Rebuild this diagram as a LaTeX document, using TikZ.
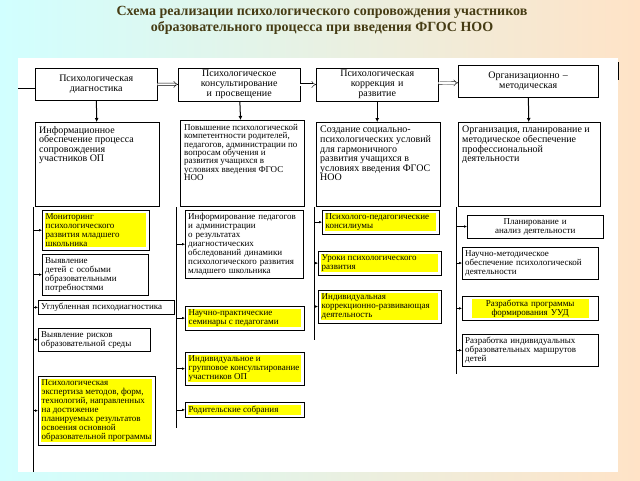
\documentclass[tikz,border=0pt]{standalone}
\usepackage{fontspec}
\setmainfont{Liberation Serif}
\usetikzlibrary{arrows.meta,positioning}
\definecolor{titlebrown}{RGB}{70,60,20}
\definecolor{hlyellow}{RGB}{255,255,0}
\setlength{\fboxsep}{0.5pt}
\newcommand{\yel}[2]{\colorbox{hlyellow}{\parbox{#1}{\raggedright #2}}}
\newcommand{\aimtext}[2]{\parbox[t][#1][t]{116pt}{\raggedright #2}}
\tikzset{
  head/.style={draw, thin, fill=white, text width=118pt, align=center, font=\fontsize{10}{10}\selectfont, minimum height=32pt, anchor=north west, inner sep=2pt},
  aim/.style={draw, thin, fill=white, align=left, font=\fontsize{10}{9.6}\selectfont, anchor=north west, inner sep=4pt},
  item/.style={draw, thin, fill=white, align=left, font=\fontsize{9}{9}\selectfont, anchor=north west, inner sep=3pt},
  tick/.style={-{Latex[length=3pt,width=2.5pt]}, thin},
  down/.style={-{Latex[length=4pt,width=4pt]}, line width=1pt},
  dbl/.style={-{Implies}, double, double distance=2pt, thin}
}
\begin{document}
\begin{tikzpicture}[x=1pt, y=-1pt]
  \useasboundingbox (0,0) rectangle (640,480);
  \shade[left color=cyan!18, right color=orange!22] (0,0) rectangle (640,480);
  \fill[white] (18,58) rectangle (618,472);
  % title
  \node[font=\bfseries\fontsize{14}{16}\selectfont, text=titlebrown, align=center] (title) at (322,20)
    {Схема реализации психологического сопровождения участников\\образовательного процесса при введения ФГОС НОО};

  % top row
  \draw (18,88) -- (35,88);
  \node[head] (diag) at (35,68) {Психологическая\\диагностика};
  \node[head] (kons) at (178,68) {Психологическое\\консультирование\\и просвещение};
  \node[head] (korr) at (316,68) {Психологическая\\коррекция и\\развитие};
  \node[head, text width=136pt] (org) at (458,65) {Организационно –\\методическая};
  \draw (618,62) -- (618,80);
  \draw[dbl] (diag) -- (kons);
  \draw[dbl] (kons) -- (korr);
  \draw[dbl] (korr) -- (org);

  % second row
  \node[aim] (info) at (35,122) {\aimtext{76pt}{Информационное обеспечение процесса сопровождения участников ОП}};
  \node[aim, font=\fontsize{9}{8.4}\selectfont] (comp) at (180,120) {\aimtext{78pt}{Повышение психологической компетентности родителей, педагогов, администрации по вопросам обучения и развития учащихся в условиях введения ФГОС НОО}};
  \node[aim] (usl) at (316,122) {\aimtext{76pt}{Создание социально-психологических условий для гармоничного развития учащихся в условиях введения ФГОС НОО}};
  \node[aim] (plan) at (458,122) {\parbox[t][76pt][t]{134pt}{\raggedright Организация, планирование и методическое обеспечение профессиональной деятельности}};
  \draw[down] (diag) -- (info);
  \draw[down] (kons) -- (comp);
  \draw[down] (korr.south) -- (korr.south |- usl.north);
  \draw[down] (org) -- (plan);

  % column 1
  \coordinate (b1) at (33,207);
  \coordinate (e1) at (33,472);
  \draw (b1) -- (e1);
  \node[item] (mon) at (42,210) {\yel{100pt}{Мониторинг психологического развития младшего школьника}};
  \node[item, text width=100pt] (vyd) at (42,254) {Выявление детей с особыми образовательными потребностями};
  \node[item, text width=130pt] (ugl) at (38,300) {Углубленная психодиагностика};
  \node[item, text width=106pt] (risk) at (38,328) {Выявление рисков образовательной среды};
  \node[item] (eksp) at (38,376) {\yel{110pt}{Психологическая экспертиза методов, форм, технологий, направленных на достижение планируемых результатов освоения основной образовательной программы}};
  \foreach \n in {mon,vyd,ugl,risk,eksp}
    \draw[tick] (b1 |- \n.west) -- (\n.west);

  % column 2
  \coordinate (b2) at (176,207);
  \coordinate (e2) at (176,428);
  \draw (b2) -- (e2);
  \node[item, text width=112pt] (inf) at (185,210) {Информирование педагогов и администрации о результатах диагностических обследований динамики психологического развития младшего школьника};
  \node[item] (sem) at (185,306) {\yel{112pt}{Научно-практические семинары с педагогами}};
  \node[item] (ind) at (185,352) {\yel{112pt}{Индивидуальное и групповое консультирование участников ОП}};
  \node[item] (rod) at (185,402) {\yel{112pt}{Родительские собрания}};
  \foreach \n in {inf,sem,ind,rod}
    \draw[tick] (b2 |- \n.west) -- (\n.west);

  % column 3
  \coordinate (b3) at (314,207);
  \coordinate (e3) at (314,340);
  \draw (b3) -- (e3);
  \node[item] (kon) at (322,210) {\yel{110pt}{Психолого-педагогические консилиумы}};
  \node[item] (urok) at (318,251) {\yel{116pt}{Уроки психологического развития}};
  \node[item] (kor) at (318,290) {\yel{116pt}{Индивидуальная коррекционно-развивающая деятельность}};
  \foreach \n in {kon,urok,kor}
    \draw[tick] (b3 |- \n.west) -- (\n.west);

  % column 4
  \coordinate (b4) at (456,207);
  \coordinate (e4) at (456,374);
  \draw (b4) -- (e4);
  \node[item, text width=130pt, align=center] (pla) at (467,215) {Планирование и анализ деятельности};
  \node[item, text width=130pt] (nmo) at (462,247) {Научно-методическое обеспечение психологической деятельности};
  \node[item, text width=130pt, align=center] (uud) at (462,296) {\colorbox{hlyellow}{\parbox{116pt}{\centering Разработка программы формирования УУД}}};
  \node[item, text width=130pt] (mar) at (462,334) {Разработка индивидуальных образовательных маршрутов детей};
  \foreach \n in {pla,nmo,uud,mar}
    \draw[tick] (b4 |- \n.west) -- (\n.west);
\end{tikzpicture}
\end{document}
